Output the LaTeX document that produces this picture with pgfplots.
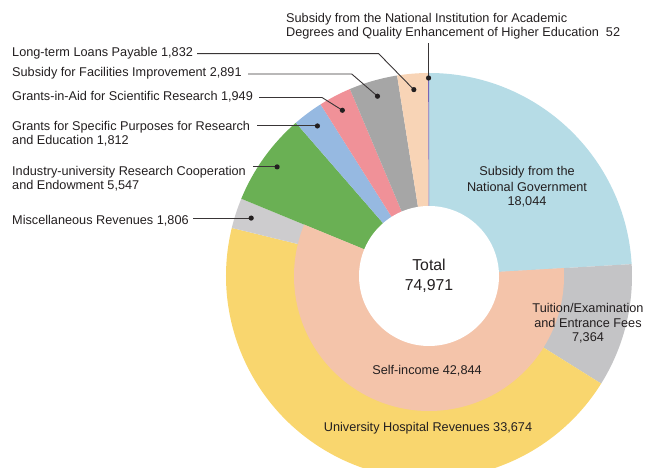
\documentclass[border=0pt]{standalone}
\usepackage{pgfplots}
\pgfplotsset{compat=1.18}
\usepackage{pgfplotstable}
\usepackage{fontspec}
\setmainfont{Liberation Sans}
\definecolor{cgov}{HTML}{B6DCE6}
\definecolor{ctui}{HTML}{C4C4C6}
\definecolor{chos}{HTML}{F9D66E}
\definecolor{cmis}{HTML}{CDCCCE}
\definecolor{cind}{HTML}{6AB054}
\definecolor{cgsp}{HTML}{96B9E1}
\definecolor{cgia}{HTML}{F09198}
\definecolor{cfac}{HTML}{A6A6A6}
\definecolor{cloa}{HTML}{F8D4B6}
\definecolor{cnia}{HTML}{7864B4}
\definecolor{cself}{HTML}{F4C4AA}
\definecolor{txt}{HTML}{231F20}
% outer ring, clockwise from 12 o'clock
\pgfplotstableread{
name val
gov 18044
tui 7364
hos 33674
mis 1806
ind 5547
gsp 1812
gia 1949
fac 2891
loa 1832
nia 52
}\outertab
% inner ring: self-income (covers tui + hos + mis)
\pgfplotstableread{
name val
self 42844
}\innertab
\begin{document}
\begin{tikzpicture}[every node/.style={font=\fontsize{12.7bp}{14bp}\selectfont, text=txt, inner sep=0pt}]
\begin{axis}[hide axis, x=1bp, y=1bp, xmin=0, xmax=645, ymin=0, ymax=468]
\pgfplotsextra{%
  \def\tot{74971}%
  \def\cum{0}%
  \def\ro{203bp}\def\rs{135bp}\def\rh{70bp}\def\rd{187bp}%
  \coordinate (C) at (axis cs:429,192);
  \pgfplotsforeachungrouped \i in {0,...,9}{%
    \pgfplotstablegetelem{\i}{val}\of\outertab \edef\v{\pgfplotsretval}%
    \pgfplotstablegetelem{\i}{name}\of\outertab \edef\nm{\pgfplotsretval}%
    \edef\sa{\fpeval{round(90-360*\cum/\tot,4)}}%
    \expandafter\xdef\csname st@\nm\endcsname{\cum}%
    \edef\cum{\fpeval{\cum+\v}}%
    \edef\ea{\fpeval{round(90-360*\cum/\tot,4)}}%
    \expandafter\xdef\csname md@\nm\endcsname{\fpeval{round((\sa+\ea)/2,4)}}%
    \fill[color=c\nm] (C) -- ++(\sa:\ro) arc[start angle=\sa, end angle=\ea, radius=\ro] -- cycle;
  }%
  % inner self-income ring
  \pgfplotstablegetelem{0}{val}\of\innertab \edef\v{\pgfplotsretval}%
  \edef\cum{\csname st@tui\endcsname}%
  \edef\sa{\fpeval{round(90-360*\cum/\tot,4)}}%
  \edef\ea{\fpeval{round(90-360*(\cum+\v)/\tot,4)}}%
  \fill[cself] (C) -- ++(\sa:\rs) arc[start angle=\sa, end angle=\ea, radius=\rs] -- cycle;
  \fill[white] (C) circle[radius=\rh];
  % leader lines and dots
  \begin{scope}[line width=0.9bp, draw=txt!90]
  \path (C) ++(\csname md@nia\endcsname:198bp) coordinate (dnia);
  \draw (dnia) -- (dnia |- {axis cs:0,425});
  \fill[txt] (dnia) circle[radius=2.6bp];
  \path (C) ++(\csname md@loa\endcsname:\rd) coordinate (dloa);
  \draw (dloa) -- (axis cs:378.7,414.3) -- (axis cs:197,414.3);
  \fill[txt] (dloa) circle[radius=2.6bp];
  \path (C) ++(\csname md@fac\endcsname:\rd) coordinate (dfac);
  \draw (dfac) -- (axis cs:351.7,394) -- (axis cs:248,394);
  \fill[txt] (dfac) circle[radius=2.6bp];
  \path (C) ++(\csname md@gia\endcsname:\rd) coordinate (dgia);
  \draw (dgia) -- (axis cs:322,370.5) -- (axis cs:259,370.5);
  \fill[txt] (dgia) circle[radius=2.6bp];
  \path (C) ++(\csname md@gsp\endcsname:\rd) coordinate (dgsp);
  \draw (dgsp) -- (dgsp -| {axis cs:257,0});
  \fill[txt] (dgsp) circle[radius=2.6bp];
  \path (C) ++(\csname md@ind\endcsname:\rd) coordinate (dind);
  \draw (dind) -- (dind -| {axis cs:253,0});
  \fill[txt] (dind) circle[radius=2.6bp];
  \path (C) ++(\csname md@mis\endcsname:\rd) coordinate (dmis);
  \draw (dmis) -- (dmis -| {axis cs:193,0});
  \fill[txt] (dmis) circle[radius=2.6bp];
  \end{scope}
}
% outside labels
\node[anchor=mid west] at (axis cs:286,448) {Subsidy from the National Institution for Academic};
\node[anchor=mid west] at (axis cs:286,433.7) {Degrees and Quality Enhancement of Higher Education\ \ 52};
\node[anchor=mid west] at (axis cs:12,414) {Long-term Loans Payable 1,832};
\node[anchor=mid west] at (axis cs:12,394) {Subsidy for Facilities Improvement 2,891};
\node[anchor=mid west] at (axis cs:12,370.3) {Grants-in-Aid for Scientific Research 1,949};
\node[anchor=mid west] at (axis cs:12,339.7) {Grants for Specific Purposes for Research};
\node[anchor=mid west] at (axis cs:12,325.7) {and Education 1,812};
\node[anchor=mid west] at (axis cs:12,295.3) {Industry-university Research Cooperation};
\node[anchor=mid west] at (axis cs:12,281.3) {and Endowment 5,547};
\node[anchor=mid west] at (axis cs:12,246.3) {Miscellaneous Revenues 1,806};
% inside labels
\node[anchor=mid] at (axis cs:527,294.7) {Subsidy from the};
\node[anchor=mid] at (axis cs:527,278.7) {National Government};
\node[anchor=mid] at (axis cs:527,264.7) {18,044};
\node[anchor=mid] at (axis cs:588,158) {Tuition/Examination};
\node[anchor=mid] at (axis cs:588,143) {and Entrance Fees};
\node[anchor=mid] at (axis cs:588,129.3) {7,364};
\node[anchor=mid] at (axis cs:428,39.5) {University Hospital Revenues 33,674};
\node[anchor=mid] at (axis cs:427,96.3) {Self-income 42,844};
\node[anchor=mid, font=\fontsize{15.8bp}{18bp}\selectfont] at (axis cs:429,199.7) {Total};
\node[anchor=mid, font=\fontsize{15.8bp}{18bp}\selectfont] at (axis cs:429,179.7) {74,971};
\end{axis}
\pgfresetboundingbox
\path (current axis.south west) rectangle (current axis.north east);
\end{tikzpicture}
\end{document}
